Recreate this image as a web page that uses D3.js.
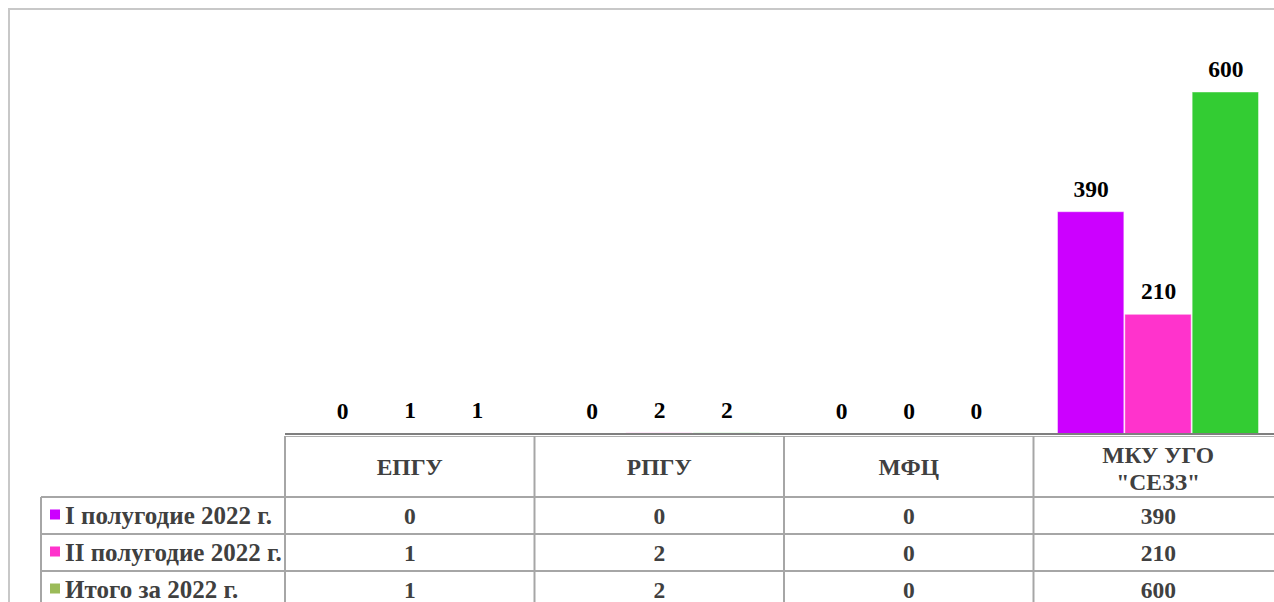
<!DOCTYPE html>
<html lang="ru">
<head>
<meta charset="UTF-8">
<title>D3</title>
<script src="https://d3js.org/d3.v7.min.js"></script>
<style>
  body { margin: 0; background: #fff; }
</style>
</head>
<body>
<script>
const categories = ['ЕПГУ', 'РПГУ', 'МФЦ', 'МКУ УГО "СЕЗЗ"'];
const seriesNames = ['I полугодие 2022 г.', 'II полугодие 2022 г.', 'Итого за 2022 г.'];
const half1 = [0, 0, 0, 390];
const half2 = [1, 2, 0, 210];
const total = [1, 2, 0, 600];
const barColors = ['#cc00ff', '#ff33cc', '#33cc33'];
const legendColors = ['#cc00ff', '#ff33cc', '#9bbb59'];

const seriesValues = [half1, half2, total];

let width = 1274, height = 602;
const svg = d3.select('body').append('svg').attr('width', width).attr('height', height);

// every text gets the font set on itself
function label(sel, size, color) {
  return sel.style('font-family', '"Liberation Serif"')
    .style('font-weight', 'bold')
    .style('font-size', size + 'px')
    .style('fill', color);
}

// outer frame
svg.append('rect').attr('x', 9).attr('y', 9).attr('width', 1300).attr('height', 700)
  .attr('fill', 'none').attr('stroke', '#c8c8c8').attr('stroke-width', 2);

const x0 = d3.scaleBand().domain(categories).range([285, 1283]);
const x1 = d3.scaleBand().domain(seriesNames).range([24, 226]);
const y = d3.scaleLinear().domain([0, 600]).range([434, 92]);

const points = [];
categories.forEach((c, ci) => {
  seriesNames.forEach((s, si) => {
    points.push({ cat: c, series: s, si: si, value: seriesValues[si][ci] });
  });
});

const bars = svg.append('g');
bars.selectAll('rect').data(points.filter(d => d.value > 0)).join('rect')
  .attr('x', d => x0(d.cat) + x1(d.series))
  .attr('y', d => y(d.value))
  .attr('width', x1.bandwidth() - 1)
  .attr('height', d => y(0) - y(d.value))
  .attr('fill', d => barColors[d.si])
  .attr('stroke', 'rgba(255,255,255,0.45)')
  .attr('stroke-width', 1);

svg.append('g').selectAll('text').data(points).join('text')
  .attr('x', d => x0(d.cat) + x1(d.series) + x1.bandwidth() / 2)
  .attr('y', d => y(d.value) - 15)
  .attr('text-anchor', 'middle')
  .call(label, 23.5, '#000')
  .text(d => d.value);

// data table
const grid = '#a6a6a6';
const tableRight = 1283;
const legLeft = 41;
const headTop = 436, headBottom = 497, rowH = 37;
const g = svg.append('g');

// baseline (double)
g.append('line').attr('x1', 285).attr('x2', tableRight).attr('y1', 434).attr('y2', 434)
  .attr('stroke', '#7f7f7f').attr('stroke-width', 2);
g.append('line').attr('x1', 285).attr('x2', tableRight).attr('y1', 436.5).attr('y2', 436.5)
  .attr('stroke', '#b0b0b0').attr('stroke-width', 1);

// horizontal lines
[0, 1, 2, 3].forEach(i => {
  g.append('line').attr('x1', legLeft).attr('x2', tableRight)
    .attr('y1', headBottom + i * rowH).attr('y2', headBottom + i * rowH)
    .attr('stroke', grid).attr('stroke-width', 2);
});
// vertical lines
g.append('line').attr('x1', legLeft).attr('x2', legLeft).attr('y1', headBottom).attr('y2', 610)
  .attr('stroke', grid).attr('stroke-width', 2);
categories.forEach(c => {
  g.append('line').attr('x1', x0(c)).attr('x2', x0(c)).attr('y1', headTop).attr('y2', 610)
    .attr('stroke', grid).attr('stroke-width', 2);
});

// header labels
const headLines = c => c === 'МКУ УГО "СЕЗЗ"' ? ['МКУ УГО', '"СЕЗЗ"'] : [c];
g.selectAll('text.head').data(categories).join('text').attr('class', 'head')
  .attr('x', c => x0(c) + x0.bandwidth() / 2)
  .attr('y', c => headLines(c).length > 1 ? 463 : 475)
  .attr('text-anchor', 'middle')
  .call(label, 23.5, '#404040')
  .selectAll('tspan').data(c => headLines(c)).join('tspan')
  .attr('x', function () { return d3.select(this.parentNode).attr('x'); })
  .attr('dy', (d, i) => i ? 27 : 0)
  .text(d => d);

// rows
seriesNames.forEach((s, si) => {
  const cy = headBottom + si * rowH + rowH / 2;
  g.append('rect').attr('x', 50).attr('y', cy - 6).attr('width', 10).attr('height', 10)
    .attr('fill', legendColors[si]);
  g.append('text').attr('x', 65).attr('y', cy + 8)
    .call(label, 25, '#404040').text(s);
  categories.forEach((c, ci) => {
    g.append('text').attr('x', x0(c) + x0.bandwidth() / 2).attr('y', cy + 8)
      .attr('text-anchor', 'middle')
      .call(label, 23.5, '#404040')
      .text(seriesValues[si][ci]);
  });
});
</script>
</body>
</html>
